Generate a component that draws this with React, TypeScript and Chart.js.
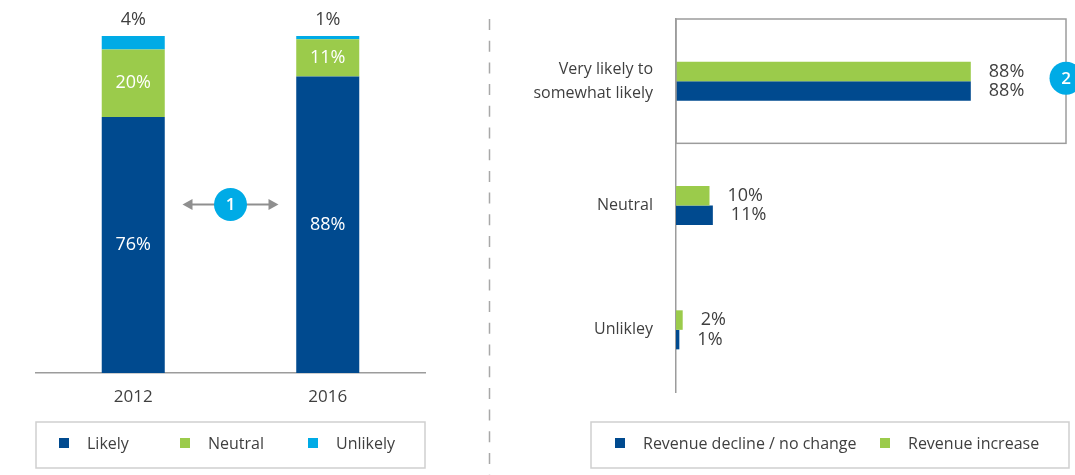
import React, { useEffect, useRef } from 'react';
import { Chart, registerables } from 'chart.js';

Chart.register(...registerables);

const FONT = '"Open Sans", "DejaVu Sans", sans-serif';
const BLUE = '#004A8F';
const GREEN = '#9BCB4B';
const CYAN = '#00ABE6';
const TEXT = '#3f3f3f';
const GRAY = '#9c9c9c';

// Left chart: likelihood by year (stacked %)
const yearCategories = ['2012', '2016'];
const likelyValues = [76, 88];
const neutralValues = [20, 11];
const unlikelyValues = [4, 1];

// Right chart: outlook by revenue development (%)
const outlookCategories = [['Very likely to', 'somewhat likely'], 'Neutral', 'Unlikley'];
const revenueIncreaseValues = [88, 10, 2];
const revenueDeclineValues = [88, 11, 1];

function drawLegendBox(ctx: CanvasRenderingContext2D, x: number, y: number, w: number, h: number) {
  ctx.save();
  ctx.strokeStyle = '#cfcfcf';
  ctx.lineWidth = 1.5;
  ctx.strokeRect(x, y, w, h);
  ctx.restore();
}

function drawLegendItem(ctx: CanvasRenderingContext2D, x: number, cy: number, color: string, text: string) {
  ctx.save();
  ctx.fillStyle = color;
  ctx.fillRect(x, cy - 5, 10, 10);
  ctx.fillStyle = TEXT;
  ctx.font = `16px ${FONT}`;
  ctx.textAlign = 'left';
  ctx.textBaseline = 'middle';
  ctx.fillText(text, x + 28, cy + 1);
  ctx.restore();
}

function drawBadge(ctx: CanvasRenderingContext2D, x: number, y: number, label: string) {
  ctx.save();
  ctx.beginPath();
  ctx.arc(x, y, 16.5, 0, Math.PI * 2);
  ctx.fillStyle = CYAN;
  ctx.fill();
  ctx.fillStyle = '#ffffff';
  ctx.font = `600 17px ${FONT}`;
  ctx.textAlign = 'center';
  ctx.textBaseline = 'middle';
  ctx.fillText(label, x, y + 1);
  ctx.restore();
}

const leftPlugin = {
  id: 'leftDecor',
  afterDatasetsDraw(chart: any) {
    const ctx: CanvasRenderingContext2D = chart.ctx;
    ctx.save();
    ctx.textAlign = 'center';
    ctx.textBaseline = 'middle';
    ctx.font = `18px ${FONT}`;
    chart.data.datasets.forEach((ds: any, i: number) => {
      const meta = chart.getDatasetMeta(i);
      meta.data.forEach((bar: any, j: number) => {
        const p = bar.getProps(['x', 'y', 'base'], true);
        const v = ds.data[j];
        if (i < 2) {
          ctx.fillStyle = '#ffffff';
          ctx.fillText(`${v}%`, p.x, (p.y + p.base) / 2);
        } else {
          ctx.fillStyle = TEXT;
          ctx.fillText(`${v}%`, p.x, p.y - 16.5);
        }
      });
    });
    ctx.restore();

    // comparison arrow with badge 1
    const m0 = chart.getDatasetMeta(0).data;
    const cx = (m0[0].x + m0[1].x) / 2;
    const cy = chart.scales.y.getPixelForValue(50);
    ctx.save();
    ctx.strokeStyle = '#8f8f8f';
    ctx.fillStyle = '#8f8f8f';
    ctx.lineWidth = 2;
    const half = 48;
    ctx.beginPath();
    ctx.moveTo(cx - half + 8, cy);
    ctx.lineTo(cx + half - 8, cy);
    ctx.stroke();
    ctx.beginPath();
    ctx.moveTo(cx - half, cy);
    ctx.lineTo(cx - half + 10, cy - 5.5);
    ctx.lineTo(cx - half + 10, cy + 5.5);
    ctx.closePath();
    ctx.fill();
    ctx.beginPath();
    ctx.moveTo(cx + half, cy);
    ctx.lineTo(cx + half - 10, cy - 5.5);
    ctx.lineTo(cx + half - 10, cy + 5.5);
    ctx.closePath();
    ctx.fill();
    ctx.restore();
    drawBadge(ctx, cx, cy, '1');

    // legend
    drawLegendBox(ctx, 36, 422, 389, 46);
    const items = chart.data.datasets;
    const xs = [59, 180, 308];
    items.forEach((ds: any, i: number) => drawLegendItem(ctx, xs[i], 443, ds.backgroundColor, ds.label));
  },
};

const rightPlugin = {
  id: 'rightDecor',
  beforeDraw(chart: any) {
    const ctx: CanvasRenderingContext2D = chart.ctx;
    // dashed separator
    ctx.save();
    ctx.strokeStyle = '#a8a8a8';
    ctx.lineWidth = 1.5;
    ctx.setLineDash([11, 10.7]);
    ctx.beginPath();
    ctx.moveTo(9.5, 19);
    ctx.lineTo(9.5, 475);
    ctx.stroke();
    ctx.restore();
  },
  afterDatasetsDraw(chart: any) {
    const ctx: CanvasRenderingContext2D = chart.ctx;
    const area = chart.chartArea;
    const band = (area.bottom - area.top) / chart.data.labels.length;
    const boxRight = area.right + 55;
    // highlight box around first category
    ctx.save();
    ctx.strokeStyle = GRAY;
    ctx.lineWidth = 1.5;
    ctx.strokeRect(area.left, area.top, boxRight - area.left, band);
    ctx.restore();

    // value labels
    ctx.save();
    ctx.fillStyle = TEXT;
    ctx.font = `18px ${FONT}`;
    ctx.textAlign = 'left';
    ctx.textBaseline = 'middle';
    chart.data.datasets.forEach((ds: any, i: number) => {
      const meta = chart.getDatasetMeta(i);
      meta.data.forEach((bar: any, j: number) => {
        const p = bar.getProps(['x', 'y'], true);
        ctx.fillText(`${ds.data[j]}%`, p.x + 18, p.y);
      });
    });
    ctx.restore();

    drawBadge(ctx, boxRight, chart.scales.y.getPixelForValue(0) - 3, '2');

    // legend (blue first)
    drawLegendBox(ctx, 111, 422, 478, 46);
    const ds = chart.data.datasets;
    drawLegendItem(ctx, 135, 443, ds[1].backgroundColor, ds[1].label);
    drawLegendItem(ctx, 400, 443, ds[0].backgroundColor, ds[0].label);
  },
};

export default function App() {
  const leftRef = useRef<HTMLCanvasElement>(null);
  const rightRef = useRef<HTMLCanvasElement>(null);

  useEffect(() => {
    const left = new Chart(leftRef.current!, {
      type: 'bar',
      data: {
        labels: yearCategories,
        datasets: [
          { label: 'Likely', data: likelyValues, backgroundColor: BLUE },
          { label: 'Neutral', data: neutralValues, backgroundColor: GREEN },
          { label: 'Unlikely', data: unlikelyValues, backgroundColor: CYAN },
        ],
      },
      options: {
        animation: false,
        responsive: true,
        maintainAspectRatio: false,
        layout: { padding: { left: 36, right: 55, top: 36, bottom: 0 } },
        datasets: { bar: { categoryPercentage: 0.324, barPercentage: 1 } },
        plugins: { legend: { display: false }, tooltip: { enabled: false } },
        scales: {
          x: {
            stacked: true,
            grid: { display: false, drawTicks: false },
            border: { display: true, color: GRAY, width: 1.5 },
            ticks: { padding: 14, color: TEXT, font: { family: FONT, size: 17 } },
            afterFit: (s: any) => { s.height = 102; },
          },
          y: { stacked: true, display: false, min: 0, max: 100 },
        },
      } as any,
      plugins: [leftPlugin],
    });

    const right = new Chart(rightRef.current!, {
      type: 'bar',
      data: {
        labels: outlookCategories as any,
        datasets: [
          { label: 'Revenue increase', data: revenueIncreaseValues, backgroundColor: GREEN },
          { label: 'Revenue decline / no change', data: revenueDeclineValues, backgroundColor: BLUE },
        ],
      },
      options: {
        indexAxis: 'y',
        animation: false,
        responsive: true,
        maintainAspectRatio: false,
        layout: { padding: { left: 0, right: 64, top: 19, bottom: 83 } },
        datasets: { bar: { categoryPercentage: 0.314, barPercentage: 1 } },
        plugins: { legend: { display: false }, tooltip: { enabled: false } },
        scales: {
          x: { display: false, min: 0, max: 100 },
          y: {
            grid: { display: false, drawTicks: false },
            border: { display: true, color: GRAY, width: 1.5 },
            ticks: { padding: 23, color: TEXT, font: { family: FONT, size: 16, lineHeight: 1.5 } },
            afterFit: (s: any) => {
              s.width = 196;
              s.paddingTop = 0;
              s.paddingBottom = 0;
            },
          },
        },
      } as any,
      plugins: [rightPlugin],
    });

    return () => {
      left.destroy();
      right.destroy();
    };
  }, []);

  return (
    <div style={{ position: 'fixed', left: 0, top: 0, width: 1075, height: 475, background: '#ffffff', overflow: 'hidden' }}>
      <div style={{ position: 'absolute', left: 0, top: 0, width: 480, height: 475 }}>
        <canvas ref={leftRef} />
      </div>
      <div style={{ position: 'absolute', left: 480, top: 0, width: 595, height: 475 }}>
        <canvas ref={rightRef} />
      </div>
    </div>
  );
}
